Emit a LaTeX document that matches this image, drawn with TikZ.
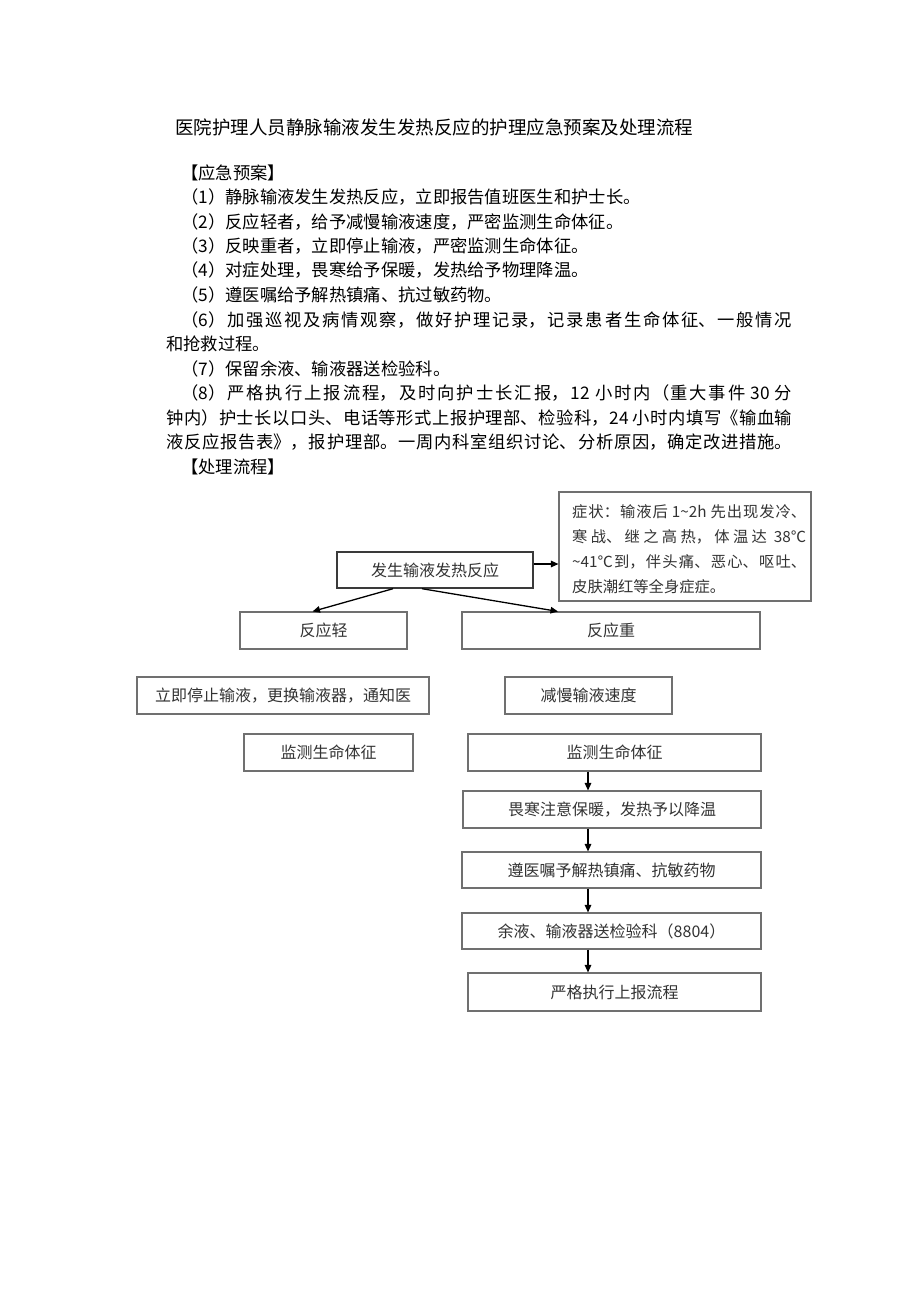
\documentclass[tikz,border=0pt]{standalone}
\usepackage{fontspec}
\setmainfont{Noto Sans CJK SC}
\usetikzlibrary{arrows.meta}
\XeTeXlinebreaklocale "zh"
\XeTeXlinebreakskip=0pt plus 3pt
\definecolor{bx}{HTML}{707070}
\definecolor{bxdark}{HTML}{3A3A3A}
\definecolor{tx}{HTML}{333333}
\newcommand\fbody{\fontsize{17.3bp}{20bp}\selectfont}
\newcommand\ftitle{\fontsize{18.5bp}{21bp}\selectfont}
\newcommand\fbx{\fontsize{16bp}{19bp}\selectfont}
\newcommand\fsym{\fontsize{15.3bp}{17bp}\selectfont}
\newcommand\jline[2]{\parbox{#1}{\noindent\parfillskip=0pt\relax #2\par}}
\begin{document}
\begin{tikzpicture}[x=1bp,y=-1bp,
  body/.style={anchor=west, inner sep=0pt, font=\fbody},
  fb/.style 2 args={draw=bx, line width=1.1bp, inner sep=0pt, text=tx, font=\fbx,
     minimum width=#1bp, minimum height=#2bp},
  arr/.style={-{Triangle[length=7.5bp,width=6.5bp]}, line width=1.3bp, black}]
\fill[white] (0,0) rectangle (920,1301);
\useasboundingbox (0,0) rectangle (920,1301);
% ---- text ----
\node[body] (title) at (175,127) {\ftitle 医院护理人员静脉输液发生发热反应的护理应急预案及处理流程};
\node[body] (h1) at (181,173) {【应急预案】};
\node[body] (p1) at (181,197) {（1）静脉输液发生发热反应，立即报告值班医生和护士长。};
\node[body] (p2) at (181,222) {（2）反应轻者，给予减慢输液速度，严密监测生命体征。};
\node[body] (p3) at (181,246) {（3）反映重者，立即停止输液，严密监测生命体征。};
\node[body] (p4) at (181,270) {（4）对症处理，畏寒给予保暖，发热给予物理降温。};
\node[body] (p5) at (181,295) {（5）遵医嘱给予解热镇痛、抗过敏药物。};
\node[body] (p6) at (181,320) {\jline{611bp}{（6）加强巡视及病情观察，做好护理记录，记录患者生命体征、一般情况}};
\node[body] (p6b) at (166,344) {和抢救过程。};
\node[body] (p7) at (181,369) {（7）保留余液、输液器送检验科。};
\node[body] (p8) at (181,393) {\jline{611bp}{（8）严格执行上报流程，及时向护士长汇报，12 小时内（重大事件 30 分}};
\node[body] (p8b) at (166,418) {\jline{626bp}{钟内）护士长以口头、电话等形式上报护理部、检验科，24 小时内填写《输血输}};
\node[body] (p8c) at (166,442) {\jline{626bp}{液反应报告表》，报护理部。一周内科室组织讨论、分析原因，确定改进措施。}};
\node[body] (h2) at (181,467) {【处理流程】};
% ---- flowchart ----
\node[fb={196}{36}, draw=bxdark, line width=1.4bp] (main) at (435,570) {发生输液发热反应};
\node[fb={252}{109}] (sym) at (685,546.5) {};
\node[anchor=north west, inner sep=0pt, text=tx] (symtext) at (572,504) {%
\begin{minipage}{234bp}\fsym\baselineskip=25bp
{\noindent\parfillskip=0pt 症状：输液后 1\textasciitilde 2h 先出现发冷、\par}
{\noindent\parfillskip=0pt 寒战、继之高热，体温达\hspace{7bp}38℃\par}
{\noindent\parfillskip=0pt \textasciitilde 41℃到，伴头痛、恶心、呕吐、\par}
\noindent 皮肤潮红等全身症症。
\end{minipage}};
\node[fb={167}{37}] (low) at (323.5,630.5) {反应轻};
\node[fb={298}{37}] (high) at (611,630.5) {反应重};
\node[fb={292}{37}] (stop) at (283,695.5) {立即停止输液，更换输液器，通知医};
\node[fb={167}{37}] (slow) at (588.5,695.5) {减慢输液速度};
\node[fb={169}{37}] (m1) at (328.5,752.5) {监测生命体征};
\node[fb={293}{37}] (m2) at (614.5,752.5) {监测生命体征};
\node[fb={298}{37}] (cool) at (612,809.5) {畏寒注意保暖，发热予以降温};
\node[fb={299}{36}] (drug) at (611.5,870) {遵医嘱予解热镇痛、抗敏药物};
\node[fb={299}{36}] (test) at (611.5,931) {余液、输液器送检验科（8804）};
\node[fb={293}{38}] (rep) at (614.5,992) {严格执行上报流程};
% ---- connectors ----
\coordinate (ax) at (588,0);
\draw[arr] ([yshift=6bp]main.east) -- ([yshift=6bp]main.east -| sym.west);
\draw[arr] ([xshift=-42bp]main.south) -- ([xshift=-11bp]low.north);
\draw[arr] ([xshift=-13bp]main.south) -- ([xshift=-53bp]high.north);
\draw[arr] (m2.south -| ax) -- (cool.north -| ax);
\draw[arr] (cool.south -| ax) -- (drug.north -| ax);
\draw[arr] (drug.south -| ax) -- (test.north -| ax);
\draw[arr] (test.south -| ax) -- (rep.north -| ax);
\end{tikzpicture}
\end{document}
